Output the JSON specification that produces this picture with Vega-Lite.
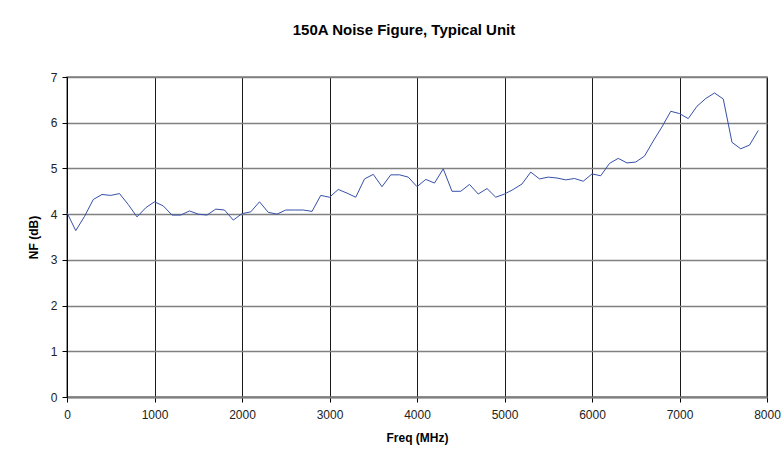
{
  "$schema": "https://vega.github.io/schema/vega-lite/v6.json",
  "width": 700,
  "height": 320,
  "autosize": {"type": "none"},
  "padding": {"left": 67, "top": 77, "right": 17, "bottom": 64},
  "background": "white",
  "title": {
    "text": "150A Noise Figure, Typical Unit",
    "font": "Liberation Sans",
    "fontSize": 15,
    "fontWeight": "bold",
    "color": "#000",
    "anchor": "middle",
    "baseline": "alphabetic",
    "offset": 21,
    "dx": -13
  },
  "data": {
    "values": [
      {"freq": 0, "nf": 4.03}, {"freq": 100, "nf": 3.64}, {"freq": 200, "nf": 3.95},
      {"freq": 300, "nf": 4.32}, {"freq": 400, "nf": 4.43}, {"freq": 500, "nf": 4.41},
      {"freq": 600, "nf": 4.45}, {"freq": 700, "nf": 4.21}, {"freq": 800, "nf": 3.94},
      {"freq": 900, "nf": 4.14}, {"freq": 1000, "nf": 4.27}, {"freq": 1100, "nf": 4.18},
      {"freq": 1200, "nf": 3.98}, {"freq": 1300, "nf": 3.98}, {"freq": 1400, "nf": 4.07},
      {"freq": 1500, "nf": 4.0}, {"freq": 1600, "nf": 3.98}, {"freq": 1700, "nf": 4.11},
      {"freq": 1800, "nf": 4.09}, {"freq": 1900, "nf": 3.87}, {"freq": 2000, "nf": 4.01},
      {"freq": 2100, "nf": 4.05}, {"freq": 2200, "nf": 4.27}, {"freq": 2300, "nf": 4.04},
      {"freq": 2400, "nf": 4.0}, {"freq": 2500, "nf": 4.09}, {"freq": 2600, "nf": 4.09},
      {"freq": 2700, "nf": 4.09}, {"freq": 2800, "nf": 4.06}, {"freq": 2900, "nf": 4.41},
      {"freq": 3000, "nf": 4.37}, {"freq": 3100, "nf": 4.54}, {"freq": 3200, "nf": 4.46},
      {"freq": 3300, "nf": 4.37}, {"freq": 3400, "nf": 4.77}, {"freq": 3500, "nf": 4.87},
      {"freq": 3600, "nf": 4.6}, {"freq": 3700, "nf": 4.86}, {"freq": 3800, "nf": 4.86},
      {"freq": 3900, "nf": 4.81}, {"freq": 4000, "nf": 4.6}, {"freq": 4100, "nf": 4.76},
      {"freq": 4200, "nf": 4.68}, {"freq": 4300, "nf": 4.99}, {"freq": 4400, "nf": 4.5},
      {"freq": 4500, "nf": 4.5}, {"freq": 4600, "nf": 4.65}, {"freq": 4700, "nf": 4.44},
      {"freq": 4800, "nf": 4.56}, {"freq": 4900, "nf": 4.37}, {"freq": 5000, "nf": 4.44},
      {"freq": 5100, "nf": 4.54}, {"freq": 5200, "nf": 4.66}, {"freq": 5300, "nf": 4.92},
      {"freq": 5400, "nf": 4.77}, {"freq": 5500, "nf": 4.81}, {"freq": 5600, "nf": 4.79},
      {"freq": 5700, "nf": 4.75}, {"freq": 5800, "nf": 4.78}, {"freq": 5900, "nf": 4.72},
      {"freq": 6000, "nf": 4.88}, {"freq": 6100, "nf": 4.84}, {"freq": 6200, "nf": 5.11},
      {"freq": 6300, "nf": 5.22}, {"freq": 6400, "nf": 5.12}, {"freq": 6500, "nf": 5.14},
      {"freq": 6600, "nf": 5.27}, {"freq": 6700, "nf": 5.6}, {"freq": 6800, "nf": 5.91},
      {"freq": 6900, "nf": 6.25}, {"freq": 7000, "nf": 6.2}, {"freq": 7100, "nf": 6.09},
      {"freq": 7200, "nf": 6.36}, {"freq": 7300, "nf": 6.53}, {"freq": 7400, "nf": 6.65},
      {"freq": 7500, "nf": 6.52}, {"freq": 7600, "nf": 5.57}, {"freq": 7700, "nf": 5.43},
      {"freq": 7800, "nf": 5.51}, {"freq": 7900, "nf": 5.83}
    ]
  },
  "mark": {"type": "line", "color": "#3650A8", "strokeWidth": 1, "interpolate": "linear"},
  "encoding": {
    "x": {
      "field": "freq",
      "type": "quantitative",
      "scale": {"domain": [0, 8000], "nice": false, "zero": false},
      "axis": {
        "title": "Freq (MHz)",
        "values": [0, 1000, 2000, 3000, 4000, 5000, 6000, 7000, 8000],
        "format": "d",
        "grid": true,
        "gridColor": "#1a1a1a",
        "gridWidth": 1,
        "gridOpacity": 1,
        "domainColor": "#808080",
        "domainWidth": 2,
        "tickColor": "#000",
        "tickSize": 5,
        "tickWidth": 1,
        "labelPadding": 7,
        "labelFont": "Liberation Sans",
        "labelFontSize": 12,
        "labelColor": "#222",
        "labelFlush": false,
        "labelOverlap": false,
        "titleFont": "Liberation Sans",
        "titleFontSize": 12,
        "titleFontWeight": "bold",
        "titleColor": "#000",
        "titlePadding": 12
      }
    },
    "y": {
      "field": "nf",
      "type": "quantitative",
      "scale": {"domain": [0, 7], "nice": false, "zero": false},
      "axis": {
        "title": "NF (dB)",
        "values": [0, 1, 2, 3, 4, 5, 6, 7],
        "grid": true,
        "gridColor": "#808080",
        "gridWidth": 1.6,
        "gridOpacity": 1,
        "domainColor": "#000",
        "domainWidth": 1,
        "tickColor": "#000",
        "tickSize": 5,
        "tickWidth": 1,
        "labelPadding": 5,
        "labelFont": "Liberation Sans",
        "labelFontSize": 12,
        "labelColor": "#222",
        "labelFlush": false,
        "titleFont": "Liberation Sans",
        "titleFontSize": 12,
        "titleFontWeight": "bold",
        "titleColor": "#000",
        "titlePadding": 10
      }
    }
  },
  "config": {
    "view": {"stroke": "#808080", "strokeWidth": 1.6}
  }
}
